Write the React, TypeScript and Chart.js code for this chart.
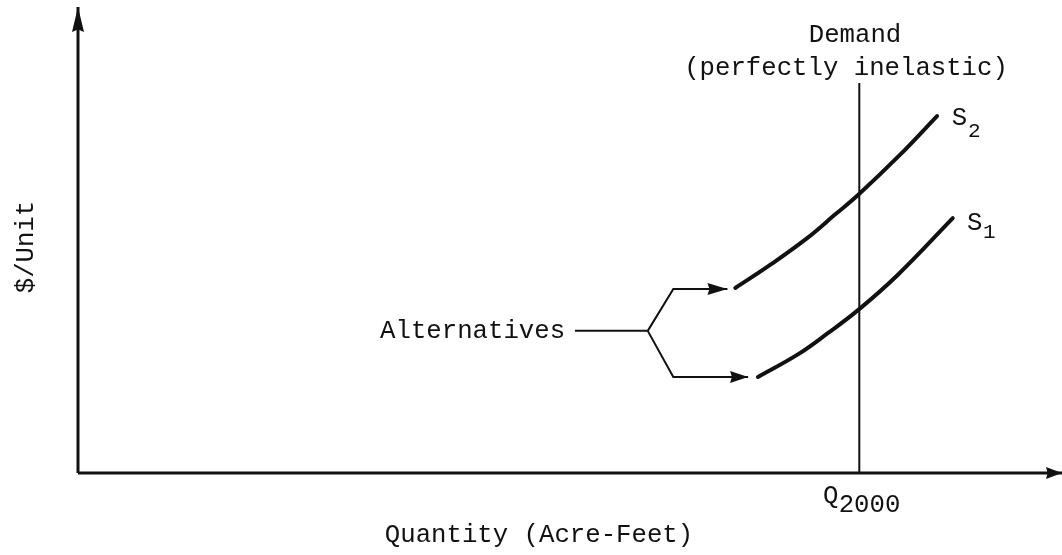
import React, { useEffect, useRef } from "react";
import { Chart, registerables } from "chart.js";

Chart.register(...registerables);

// ---- Data (quantity on x, $/unit on y; arbitrary 0–100 units) ----
const quantityRange = [0, 100];
const priceRange = [0, 100];

const xAxisQuantity = [0, 100];
const xAxisPrice = [0, 0];
const yAxisQuantity = [0, 0];
const yAxisPrice = [0, 100];

const demandQuantity = [79.4, 79.4];
const demandPrice = [0, 83.7];

const s2Quantity = [66.8, 70.3, 74.1, 76.9, 79.3, 83.5, 87.3];
const s2Price = [39.7, 44.6, 50.4, 55.4, 59.7, 68.2, 76.6];

const s1Quantity = [69.1, 73.2, 76.2, 79.3, 83.3, 88.9];
const s1Price = [20.6, 25.5, 30.0, 35.0, 42.5, 54.7];

const stemQuantity = [50.5, 57.9];
const stemPrice = [30.5, 30.5];
const upperArrowQuantity = [57.9, 60.5, 66.0];
const upperArrowPrice = [30.5, 39.5, 39.5];
const lowerArrowQuantity = [57.9, 60.5, 68.1];
const lowerArrowPrice = [30.5, 20.6, 20.6];

const labelTexts = [
  "Demand",
  "(perfectly inelastic)",
  "Alternatives",
  "S",
  "2",
  "S",
  "1",
  "Q",
  "2000",
  "Quantity (Acre-Feet)",
  "$/Unit",
];

const toPoints = (xs: number[], ys: number[]) => xs.map((x, i) => ({ x, y: ys[i] }));

// ---- Annotation placement (data coordinates) ----
const FONT = '"Liberation Mono", "DejaVu Sans Mono", monospace';
const labelPlacement = [
  { x: 78.96, y: 92.5, align: "center", size: 25.7, rot: 0 },
  { x: 78.05, y: 85.4, align: "center", size: 25.7, rot: 0 },
  { x: 49.5, y: 29.0, align: "right", size: 25.7, rot: 0 },
  { x: 88.8, y: 74.7, align: "left", size: 25.7, rot: 0 },
  { x: 90.45, y: 72.1, align: "left", size: 21, rot: 0 },
  { x: 90.35, y: 52.15, align: "left", size: 25.7, rot: 0 },
  { x: 91.97, y: 50.4, align: "left", size: 21, rot: 0 },
  { x: 75.7, y: -6.44, align: "left", size: 25.7, rot: 0 },
  { x: 77.3, y: -8.4, align: "left", size: 25.7, rot: 0 },
  { x: 46.85, y: -14.8, align: "center", size: 25.7, rot: 0 },
  { x: -5.3, y: 48.5, align: "center", size: 25.7, rot: -Math.PI / 2 },
];

const arrowPlugin = {
  id: "arrowheads",
  afterDatasetsDraw(chart: any) {
    const ctx = chart.ctx;
    chart.data.datasets.forEach((ds: any, i: number) => {
      if (!ds.arrow) return;
      const meta = chart.getDatasetMeta(i);
      const pts = meta.data;
      if (pts.length < 2) return;
      const a = pts[pts.length - 2];
      const b = pts[pts.length - 1];
      const ang = Math.atan2(b.y - a.y, b.x - a.x);
      const len = ds.arrow.length;
      const half = ds.arrow.half;
      ctx.save();
      ctx.fillStyle = ds.borderColor;
      ctx.translate(b.x, b.y);
      ctx.rotate(ang);
      ctx.beginPath();
      ctx.moveTo(0, 0);
      ctx.lineTo(-len, -half);
      ctx.lineTo(-len * 0.9, 0);
      ctx.lineTo(-len, half);
      ctx.closePath();
      ctx.fill();
      ctx.restore();
    });
  },
};

const textPlugin = {
  id: "textLabels",
  afterDraw(chart: any) {
    const ctx = chart.ctx;
    const xs = chart.scales.x;
    const ys = chart.scales.y;
    ctx.save();
    ctx.fillStyle = "#111";
    labelTexts.forEach((t, i) => {
      const p = labelPlacement[i];
      const px = xs.getPixelForValue(p.x);
      const py = ys.getPixelForValue(p.y);
      ctx.save();
      ctx.translate(px, py);
      ctx.textBaseline = "alphabetic";
      if (p.rot) {
        ctx.rotate(p.rot);
        ctx.textBaseline = "middle";
      }
      ctx.font = `${p.size}px ${FONT}`;
      ctx.textAlign = p.align;
      ctx.fillText(t, 0, 0);
      ctx.restore();
    });
    ctx.restore();
  },
};

export default function App() {
  const ref = useRef<HTMLCanvasElement | null>(null);
  useEffect(() => {
    if (!ref.current) return;
    const black = "#111";
    const line = (pts: any[], width: number, extra: any = {}) => ({
      data: pts,
      showLine: true,
      borderColor: black,
      backgroundColor: black,
      borderWidth: width,
      pointRadius: 0,
      pointHoverRadius: 0,
      tension: 0,
      clip: false,
      ...extra,
    });
    const curve = { tension: 0.4, cubicInterpolationMode: "default", borderCapStyle: "round" };
    const chart = new Chart(ref.current, {
      type: "scatter",
      data: {
        datasets: [
          line(toPoints(xAxisQuantity, xAxisPrice), 3, { arrow: { length: 16, half: 6 } }),
          line(toPoints(yAxisQuantity, yAxisPrice), 3, { arrow: { length: 25, half: 6 } }),
          line(toPoints(demandQuantity, demandPrice), 2),
          line(toPoints(s2Quantity, s2Price), 4, curve),
          line(toPoints(s1Quantity, s1Price), 4, curve),
          line(toPoints(stemQuantity, stemPrice), 2),
          line(toPoints(upperArrowQuantity, upperArrowPrice), 2, { arrow: { length: 20, half: 6 } }),
          line(toPoints(lowerArrowQuantity, lowerArrowPrice), 2, { arrow: { length: 18, half: 6 } }),
        ] as any,
      },
      options: {
        animation: false,
        responsive: false,
        events: [],
        layout: { padding: { left: 78, right: 0, top: 7, bottom: 82 } },
        plugins: { legend: { display: false }, tooltip: { enabled: false } },
        scales: {
          x: { type: "linear", min: quantityRange[0], max: quantityRange[1], display: false },
          y: { type: "linear", min: priceRange[0], max: priceRange[1], display: false },
        },
      },
      plugins: [arrowPlugin, textPlugin],
    });
    return () => chart.destroy();
  }, []);
  return (
    <div style={{ position: "fixed", left: 0, top: 0, width: 1062, height: 555, background: "#fff" }}>
      <canvas ref={ref} width={1062} height={555} />
    </div>
  );
}
